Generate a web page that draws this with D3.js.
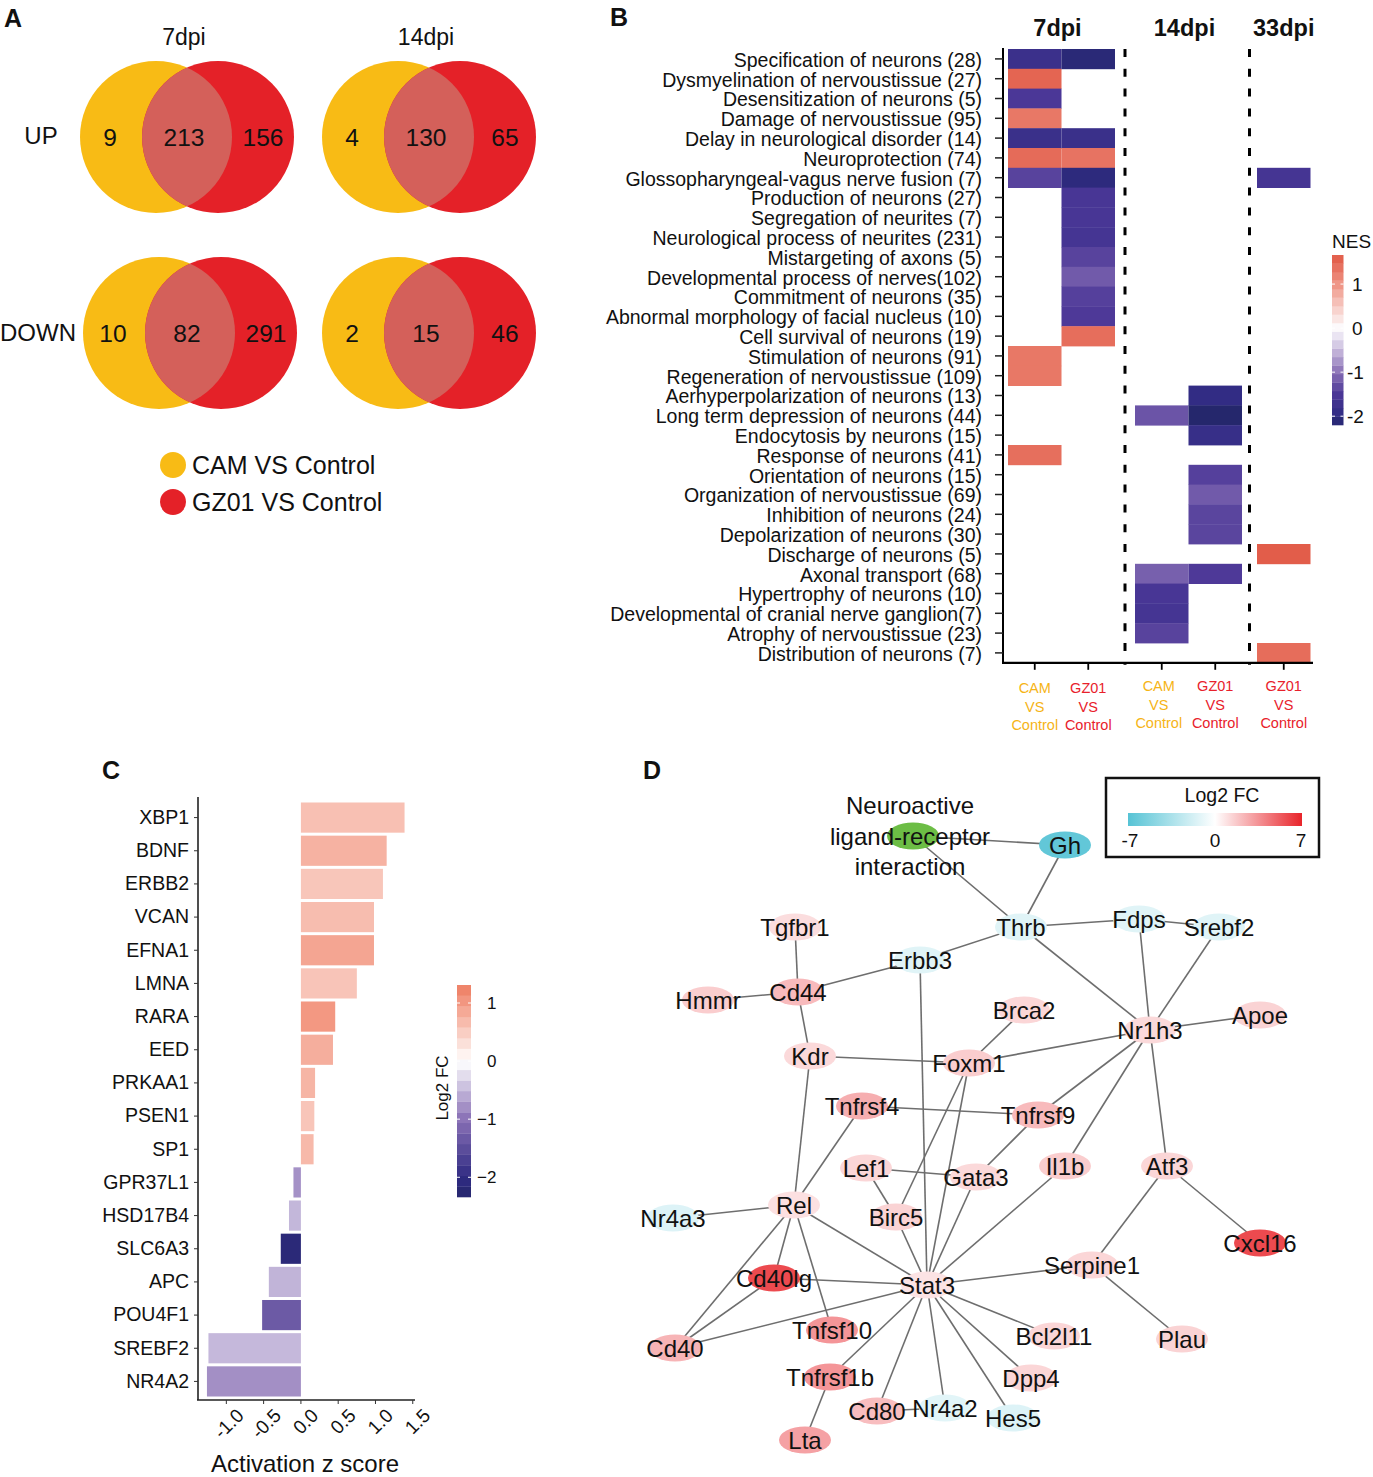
<!DOCTYPE html>
<html><head><meta charset="utf-8">
<script src="https://cdn.jsdelivr.net/npm/d3@7"></script>
<style>
body{margin:0;background:#fff}
svg{display:block}
text{font-family:"Liberation Sans",Arial,Helvetica,sans-serif;fill:#111}
</style></head>
<body><svg id="fig" width="1373" height="1477"></svg>
<script>
// ================= DATA =================
// Panel A – Venn counts [direction][time]
const vennTimes = ["7dpi", "14dpi"];
const vennDirections = ["UP", "DOWN"];
const vennCamOnly = [[9, 4], [10, 2]];
const vennShared = [[213, 130], [82, 15]];
const vennGzOnly = [[156, 65], [291, 46]];
const vennLegend = ["CAM VS Control", "GZ01 VS Control"];

// Panel B – NES heatmap
const nesTerms = [
  "Specification of neurons (28)", "Dysmyelination of nervoustissue (27)", "Desensitization of neurons (5)",
  "Damage of nervoustissue (95)", "Delay in neurological disorder (14)", "Neuroprotection (74)",
  "Glossopharyngeal-vagus nerve fusion (7)", "Production of neurons (27)", "Segregation of neurites (7)",
  "Neurological process of neurites (231)", "Mistargeting of axons (5)", "Developmental process of nerves(102)",
  "Commitment of neurons (35)", "Abnormal morphology of facial nucleus (10)", "Cell survival of neurons (19)",
  "Stimulation of neurons (91)", "Regeneration of nervoustissue (109)", "Aerhyperpolarization of neurons (13)",
  "Long term depression of neurons (44)", "Endocytosis by neurons (15)", "Response of neurons (41)",
  "Orientation of neurons (15)", "Organization of nervoustissue (69)", "Inhibition of neurons (24)",
  "Depolarization of neurons (30)", "Discharge of neurons (5)", "Axonal transport (68)",
  "Hypertrophy of neurons (10)", "Developmental of cranial nerve ganglion(7)", "Atrophy of nervoustissue (23)",
  "Distribution of neurons (7)"
];
const nesFacets = ["7dpi", "14dpi", "33dpi"];
const nesColumns = ["CAM7", "GZ7", "CAM14", "GZ14", "GZ33"];
const nesColumnFacet = ["7dpi", "7dpi", "14dpi", "14dpi", "33dpi"];
const nesColumnGroup = ["CAM", "GZ01", "CAM", "GZ01", "GZ01"];
const nesCam7 = [-1.78, 1.52, -1.5, 1.31, -1.8, 1.45, -1.4, null, null, null, null, null, null, null, null,
  1.31, 1.31, null, null, null, 1.41, null, null, null, null, null, null, null, null, null, null];
const nesGz7 = [-2.1, null, null, null, -1.8, 1.36, -2.05, -1.55, -1.55, -1.6, -1.4, -1.2, -1.42, -1.48, 1.42,
  null, null, null, null, null, null, null, null, null, null, null, null, null, null, null, null];
const nesCam14 = [null, null, null, null, null, null, null, null, null, null, null, null, null, null, null, null, null, null,
  -1.25, null, null, null, null, null, null, null, -1.15, -1.55, -1.6, -1.4, null];
const nesGz14 = [null, null, null, null, null, null, null, null, null, null, null, null, null, null, null, null, null,
  -1.95, -2.2, -1.85, null, -1.42, -1.2, -1.38, -1.38, null, -1.48, null, null, null, null];
const nesGz33 = [null, null, null, null, null, null, -1.6, null, null, null, null, null, null, null, null, null, null, null,
  null, null, null, null, null, null, null, 1.6, null, null, null, null, 1.43];
const nesValues = [nesCam7, nesGz7, nesCam14, nesGz14, nesGz33];
const nesLegendTicks = [1, 0, -1, -2];

// Panel C – activation z score
const zGenes = ["XBP1", "BDNF", "ERBB2", "VCAN", "EFNA1", "LMNA", "RARA", "EED", "PRKAA1", "PSEN1", "SP1",
  "GPR37L1", "HSD17B4", "SLC6A3", "APC", "POU4F1", "SREBF2", "NR4A2"];
const zScores = [1.39, 1.15, 1.10, 0.98, 0.98, 0.75, 0.46, 0.43, 0.19, 0.18, 0.17,
  -0.10, -0.16, -0.27, -0.43, -0.52, -1.24, -1.26];
const zLog2FC = [0.62, 0.76, 0.56, 0.65, 0.89, 0.58, 1.02, 0.8, 0.73, 0.57, 0.69,
  -0.77, -0.51, -2.15, -0.53, -1.33, -0.5, -0.79];
const zTicks = [-1.0, -0.5, 0.0, 0.5, 1.0, 1.5];
const zLegendTicks = [1, 0, -1, -2];

// Panel D – network
const netNodes = ["Neuroactive", "Gh", "Thrb", "Fdps", "Srebf2", "Tgfbr1", "Erbb3", "Cd44", "Hmmr", "Brca2",
  "Nr1h3", "Apoe", "Kdr", "Foxm1", "Tnfrsf4", "Tnfrsf9", "Lef1", "Gata3", "Il1b", "Atf3", "Nr4a3", "Rel",
  "Birc5", "Cxcl16", "Cd40lg", "Stat3", "Serpine1", "Cd40", "Tnfsf10", "Bcl2l11", "Plau", "Tnfrsf1b",
  "Dpp4", "Cd80", "Nr4a2", "Hes5", "Lta"];
// layout coordinates (Cytoscape layout units)
const netLayoutX = [273, 425, 381, 499, 579, 155, 280, 158, 68, 384, 510, 620, 170, 329, 222, 398, 226, 336,
  425, 527, 33, 154, 256, 620, 134, 287, 452, 35, 192, 414, 542, 190, 391, 237, 305, 373, 165];
const netLayoutY = [56, 65, 147, 139, 147, 147, 180, 212, 220, 230, 250, 235, 276, 283, 326, 335, 388, 397,
  386, 386, 438, 425, 437, 463, 498, 505, 485, 568, 550, 556, 559, 597, 598, 631, 628, 638, 660];
const netLog2FC = [null, -6.5, -1.3, -1.3, -1.3, 1.1, -1.3, 2.2, 1.6, 1.3, 1.2, 1.4, 1.2, 1.6, 2.6, 2.2, 1.3, 1.2,
  1.6, 1.3, -1.4, 1.0, 1.4, 5.8, 5.8, 0.9, 1.3, 2.4, 3.4, 1.3, 1.4, 3.4, 1.3, 2.1, -1.2, -1.4, 3.0];
const netLabelLines = { "Neuroactive": ["Neuroactive", "ligand-receptor", "interaction"] };
const netEdges = [["Neuroactive", "Gh"], ["Neuroactive", "Thrb"], ["Gh", "Thrb"], ["Thrb", "Erbb3"], ["Thrb", "Fdps"],
  ["Fdps", "Srebf2"], ["Thrb", "Nr1h3"], ["Fdps", "Nr1h3"], ["Srebf2", "Nr1h3"], ["Nr1h3", "Apoe"], ["Nr1h3", "Foxm1"],
  ["Nr1h3", "Tnfrsf9"], ["Nr1h3", "Il1b"], ["Nr1h3", "Atf3"], ["Tgfbr1", "Cd44"], ["Cd44", "Erbb3"], ["Hmmr", "Cd44"],
  ["Cd44", "Kdr"], ["Kdr", "Foxm1"], ["Kdr", "Rel"], ["Erbb3", "Stat3"], ["Brca2", "Foxm1"], ["Foxm1", "Birc5"],
  ["Foxm1", "Stat3"], ["Tnfrsf4", "Tnfrsf9"], ["Tnfrsf4", "Rel"], ["Tnfrsf9", "Gata3"], ["Lef1", "Gata3"],
  ["Lef1", "Birc5"], ["Birc5", "Stat3"], ["Gata3", "Stat3"], ["Il1b", "Stat3"], ["Atf3", "Serpine1"],
  ["Atf3", "Cxcl16"], ["Serpine1", "Stat3"], ["Serpine1", "Plau"], ["Rel", "Nr4a3"], ["Rel", "Stat3"],
  ["Rel", "Cd40lg"], ["Rel", "Tnfsf10"], ["Rel", "Cd40"], ["Cd40lg", "Stat3"], ["Cd40lg", "Cd40"], ["Cd40", "Stat3"],
  ["Stat3", "Tnfrsf1b"], ["Tnfrsf1b", "Lta"], ["Stat3", "Cd80"], ["Stat3", "Nr4a2"], ["Stat3", "Hes5"],
  ["Stat3", "Dpp4"], ["Stat3", "Bcl2l11"], ["Cd80", "Nr4a2"]];
const netLegendTicks = [-7, 0, 7];

const panelLetters = ["A", "B", "C", "D"];

// ================= DRAW =================
const svg = d3.select("#fig");
const defs = svg.append("defs");
const letterX = d3.scaleOrdinal().domain(panelLetters).range([4, 610, 102, 643]);
const letterY = d3.scaleOrdinal().domain(panelLetters).range([27, 26, 779, 779]);
svg.selectAll("text.letter").data(panelLetters).join("text").attr("class", "letter")
  .attr("x", d => letterX(d)).attr("y", d => letterY(d))
  .attr("font-size", 25).attr("font-weight", "bold").text(d => d);

// ---------- Panel A ----------
(function () {
  const g = svg.append("g");
  const YEL = "#f8bb15", RED = "#e42128", MIX = "#d4605a";
  const vx = d3.scalePoint().domain(vennTimes).range([187, 429]);
  const vy = d3.scalePoint().domain(vennDirections).range([137, 333]);
  const R = 76, OFF = 31;
  vennTimes.forEach((t, i) => {
    g.append("text").attr("x", vx(t) - 3).attr("y", 45).attr("text-anchor", "middle")
      .attr("font-size", 23).text(t);
    vennDirections.forEach((d, j) => {
      const cx = vx(t) + (j === 1 && i === 0 ? 3 : 0), cy = vy(d);
      const id = "clipA" + i + j;
      defs.append("clipPath").attr("id", id).append("circle").attr("cx", cx + OFF).attr("cy", cy).attr("r", R);
      g.append("circle").attr("cx", cx - OFF).attr("cy", cy).attr("r", R).attr("fill", YEL);
      g.append("circle").attr("cx", cx + OFF).attr("cy", cy).attr("r", R).attr("fill", RED);
      g.append("circle").attr("cx", cx - OFF).attr("cy", cy).attr("r", R).attr("fill", MIX)
        .attr("clip-path", `url(#${id})`);
      const nums = [vennCamOnly[j][i], vennShared[j][i], vennGzOnly[j][i]];
      const dx = [-77, -3, 76];
      nums.forEach((n, k) => {
        g.append("text").attr("x", cx + dx[k]).attr("y", cy + 9).attr("text-anchor", "middle")
          .attr("font-size", 24.5).text(n);
      });
    });
  });
  g.append("text").attr("x", 41).attr("y", vy("UP") + 7).attr("text-anchor", "middle").attr("font-size", 24).text("UP");
  g.append("text").attr("x", 0).attr("y", vy("DOWN") + 8).attr("font-size", 24).text("DOWN");
  const ly = d3.scalePoint().domain(vennLegend).range([465, 502]);
  const lc = d3.scaleOrdinal().domain(vennLegend).range([YEL, RED]);
  vennLegend.forEach(l => {
    g.append("circle").attr("cx", 173).attr("cy", ly(l)).attr("r", 13).attr("fill", lc(l));
    g.append("text").attr("x", 192).attr("y", ly(l) + 9).attr("font-size", 25).attr("fill", "#222").text(l);
  });
})();

// ---------- Panel B ----------
(function () {
  const g = svg.append("g");
  const nesColor = d3.scaleLinear()
    .domain([-2.2, -2, -1.5, -1, -0.5, 0, 0.5, 1, 1.66])
    .range(["#25276c", "#2f2b82", "#4b3797", "#8a71b6", "#c7b9dc", "#fcfbfd", "#f7cac3", "#ef9485", "#e15844"]);
  const top = 49, rowH = 19.8;
  const y = d3.scaleBand().domain(nesTerms).range([top, top + rowH * nesTerms.length]).padding(0);
  const facetRange = { "7dpi": [1008, 1115], "14dpi": [1135, 1242], "33dpi": [1257, 1310.5] };
  const facetScale = {};
  nesFacets.forEach(f => {
    const cols = nesColumns.filter((c, i) => nesColumnFacet[i] === f);
    facetScale[f] = d3.scaleBand().domain(cols).range(facetRange[f]).padding(0);
  });
  const colX = (c, i) => facetScale[nesColumnFacet[i]](c);
  const colW = (i) => facetScale[nesColumnFacet[i]].bandwidth();
  nesColumns.forEach((c, i) => {
    nesValues[i].forEach((v, r) => {
      if (v === null) return;
      g.append("rect").attr("x", colX(c, i)).attr("y", y(nesTerms[r]))
        .attr("width", colW(i)).attr("height", y.bandwidth() + 0.4).attr("fill", nesColor(v));
    });
  });
  const yBottom = top + rowH * nesTerms.length;
  [[1115, 1135], [1242, 1257]].forEach(p => {
    const xx = (p[0] + p[1]) / 2;
    g.append("line").attr("x1", xx).attr("x2", xx).attr("y1", top).attr("y2", yBottom + 2)
      .attr("stroke", "#000").attr("stroke-width", 3).attr("stroke-dasharray", "8,11.8");
  });
  const axisY = d3.axisLeft(y).tickSize(8).tickPadding(13);
  const ay = g.append("g").attr("transform", "translate(1003,0)").call(axisY);
  ay.select(".domain").attr("stroke", "#000").attr("stroke-width", 2).attr("d", `M0,${top - 1}V${yBottom}`);
  ay.selectAll(".tick line").attr("stroke", "#222").attr("stroke-width", 1.5);
  ay.selectAll(".tick text").attr("font-size", 19.5).attr("fill", "#111").attr("dy", "0.4em")
    .style("font-family", '"Liberation Sans",Arial,sans-serif');
  g.append("line").attr("x1", 1002).attr("x2", 1313).attr("y1", yBottom).attr("y2", yBottom)
    .attr("stroke", "#000").attr("stroke-width", 2.2);
  const groupColor = d3.scaleOrdinal().domain(["CAM", "GZ01"]).range(["#f6b416", "#e8212b"]);
  nesColumns.forEach((c, i) => {
    const cx = colX(c, i) + colW(i) / 2;
    g.append("line").attr("x1", cx).attr("x2", cx).attr("y1", yBottom).attr("y2", yBottom + 7)
      .attr("stroke", "#000").attr("stroke-width", 1.8);
    const lines = [nesColumnGroup[i], "VS", "Control"];
    const yy = i < 2 ? 693 : 691;
    lines.forEach((l, k) => {
      g.append("text").attr("x", cx - (i === 2 ? 3 : 0)).attr("y", yy + k * 18.5).attr("text-anchor", "middle")
        .attr("font-size", 14.5).style("fill", groupColor(nesColumnGroup[i])).text(l);
    });
  });
  nesFacets.forEach(f => {
    const r = facetRange[f];
    g.append("text").attr("x", (r[0] + r[1]) / 2 - (f === "33dpi" ? 0 : 4)).attr("y", 36)
      .attr("text-anchor", "middle").attr("font-size", 23.5).attr("font-weight", "bold").text(f);
  });
  const ly = d3.scaleLinear().domain([-2.2, 1.66]).range([425, 255]);
  const steps = d3.range(20).map(k => -2.2 + (k + 0.5) * (3.86 / 20));
  steps.forEach(v => {
    const y0 = ly(v + 3.86 / 40), y1 = ly(v - 3.86 / 40);
    g.append("rect").attr("x", 1332).attr("y", y0).attr("width", 11.5).attr("height", y1 - y0 + 0.3)
      .attr("fill", nesColor(v));
  });
  nesLegendTicks.forEach(t => {
    g.append("line").attr("x1", 1332).attr("x2", 1335).attr("y1", ly(t)).attr("y2", ly(t)).attr("stroke", "#fff");
    g.append("line").attr("x1", 1340.5).attr("x2", 1343.5).attr("y1", ly(t)).attr("y2", ly(t)).attr("stroke", "#fff");
    g.append("text").attr("x", t < 0 ? 1347 : 1352).attr("y", ly(t) + 7).attr("font-size", 19).text(t < 0 ? "-" + Math.abs(t) : t);
  });
  g.append("text").attr("x", 1332).attr("y", 248).attr("font-size", 19).text("NES");
})();

// ---------- Panel C ----------
(function () {
  const g = svg.append("g");
  const x = d3.scaleLinear().domain([-1.38, 1.53]).range([198, 415]);
  const y = d3.scaleBand().domain(zGenes).range([801, 1398]).paddingInner(0.09).paddingOuter(0.045);
  const col = d3.scaleLinear().domain([-2.34, -2, -1, 0, 1, 1.31])
    .range(["#25276c", "#2f2b82", "#8a71b6", "#ffffff", "#f39a84", "#ee7c60"]);
  zGenes.forEach((gname, i) => {
    const v = zScores[i];
    g.append("rect").attr("x", x(Math.min(0, v))).attr("y", y(gname))
      .attr("width", Math.abs(x(v) - x(0))).attr("height", y.bandwidth()).attr("fill", col(zLog2FC[i]));
  });
  const ay = g.append("g").attr("transform", "translate(198,0)").call(d3.axisLeft(y).tickSize(4).tickPadding(5));
  ay.select(".domain").attr("stroke", "#222").attr("stroke-width", 1.6).attr("d", "M0,797V1400");
  ay.selectAll(".tick line").attr("stroke", "#333");
  ay.selectAll(".tick text").attr("font-size", 19.5).attr("fill", "#111")
    .style("font-family", '"Liberation Sans",Arial,sans-serif');
  g.append("line").attr("x1", 197).attr("x2", 415).attr("y1", 1400).attr("y2", 1400).attr("stroke", "#222").attr("stroke-width", 1.6);
  zTicks.forEach(t => {
    g.append("line").attr("x1", x(t)).attr("x2", x(t)).attr("y1", 1400).attr("y2", 1404).attr("stroke", "#333");
    g.append("text").attr("transform", `translate(${x(t) + 9},${1407}) rotate(-45)`)
      .attr("text-anchor", "end").attr("dy", "0.72em").attr("font-size", 19).attr("fill", "#222").text(t.toFixed(1));
  });
  g.append("text").attr("x", 305).attr("y", 1472).attr("text-anchor", "middle").attr("font-size", 24).text("Activation z score");
  const ly = d3.scaleLinear().domain([-2.34, 1.31]).range([1197, 985]);
  const n = 20, span = 3.65;
  d3.range(n).map(k => -2.34 + (k + 0.5) * span / n).forEach(v => {
    const y0 = ly(v + span / (2 * n)), y1 = ly(v - span / (2 * n));
    g.append("rect").attr("x", 457).attr("y", y0).attr("width", 14).attr("height", y1 - y0 + 0.3).attr("fill", col(v));
  });
  zLegendTicks.forEach(t => {
    g.append("line").attr("x1", 457).attr("x2", 460).attr("y1", ly(t)).attr("y2", ly(t)).attr("stroke", "#fff");
    g.append("line").attr("x1", 468).attr("x2", 471).attr("y1", ly(t)).attr("y2", ly(t)).attr("stroke", "#fff");
    g.append("text").attr("x", t < 0 ? 477 : 487).attr("y", ly(t) + 6).attr("font-size", 17).attr("fill", "#222")
      .text(t < 0 ? "\u2212" + Math.abs(t) : t);
  });
  g.append("text").attr("transform", "translate(448,1088) rotate(-90)").attr("text-anchor", "middle")
    .attr("font-size", 17).text("Log2 FC");
})();

// ---------- Panel D ----------
(function () {
  const g = svg.append("g");
  const sx = d3.scaleLinear().domain([0, 680]).range([640, 1320]);
  const sy = d3.scaleLinear().domain([0, 680]).range([780, 1460]);
  const fc = d3.scaleLinear().domain([-7, 0, 7]).range(["#56c3d5", "#ffffff", "#e8242a"]);
  const idx = {};
  netNodes.forEach((n, i) => idx[n] = i);
  const px = n => sx(netLayoutX[idx[n]]), py = n => sy(netLayoutY[idx[n]]);
  netEdges.forEach(e => {
    g.append("line").attr("x1", px(e[0])).attr("y1", py(e[0])).attr("x2", px(e[1])).attr("y2", py(e[1]))
      .attr("stroke", "#6e6e6e").attr("stroke-width", 1.6);
  });
  netNodes.forEach((n, i) => {
    const v = netLog2FC[i];
    g.append("ellipse").attr("cx", px(n)).attr("cy", py(n)).attr("rx", 26).attr("ry", 13.5)
      .attr("fill", v === null ? "#6cbd45" : fc(v));
  });
  netNodes.forEach((n, i) => {
    const lines = netLabelLines[n] || [n];
    if (lines.length === 1) {
      g.append("text").attr("x", px(n)).attr("y", py(n) + 8.5).attr("text-anchor", "middle")
        .attr("font-size", 24).text(n);
    } else {
      lines.forEach((l, k) => {
        g.append("text").attr("x", px(n) - 3).attr("y", py(n) + 8.5 + (k - 1) * 30.5).attr("text-anchor", "middle")
          .attr("font-size", 24).text(l);
      });
    }
  });
  const lg = g.append("g");
  lg.append("rect").attr("x", 1106).attr("y", 778).attr("width", 213).attr("height", 79)
    .attr("fill", "#fff").attr("stroke", "#111").attr("stroke-width", 2.5);
  lg.append("text").attr("x", 1222).attr("y", 802).attr("text-anchor", "middle").attr("font-size", 19.5).text("Log2 FC");
  const grad = defs.append("linearGradient").attr("id", "fcgrad");
  [-7, 0, 7].forEach(v => grad.append("stop").attr("offset", ((v + 7) / 14 * 100) + "%").attr("stop-color", fc(v)));
  const lx = d3.scaleLinear().domain([-7, 7]).range([1128, 1302]);
  lg.append("rect").attr("x", lx(-7)).attr("y", 813).attr("width", lx(7) - lx(-7)).attr("height", 13).attr("fill", "url(#fcgrad)");
  netLegendTicks.forEach(t => {
    lg.append("text").attr("x", lx(t) + (t === -7 ? 2 : t === 7 ? -1 : 0)).attr("y", 847).attr("text-anchor", "middle")
      .attr("font-size", 19).text(t);
  });
})();
</script>
</body></html>
